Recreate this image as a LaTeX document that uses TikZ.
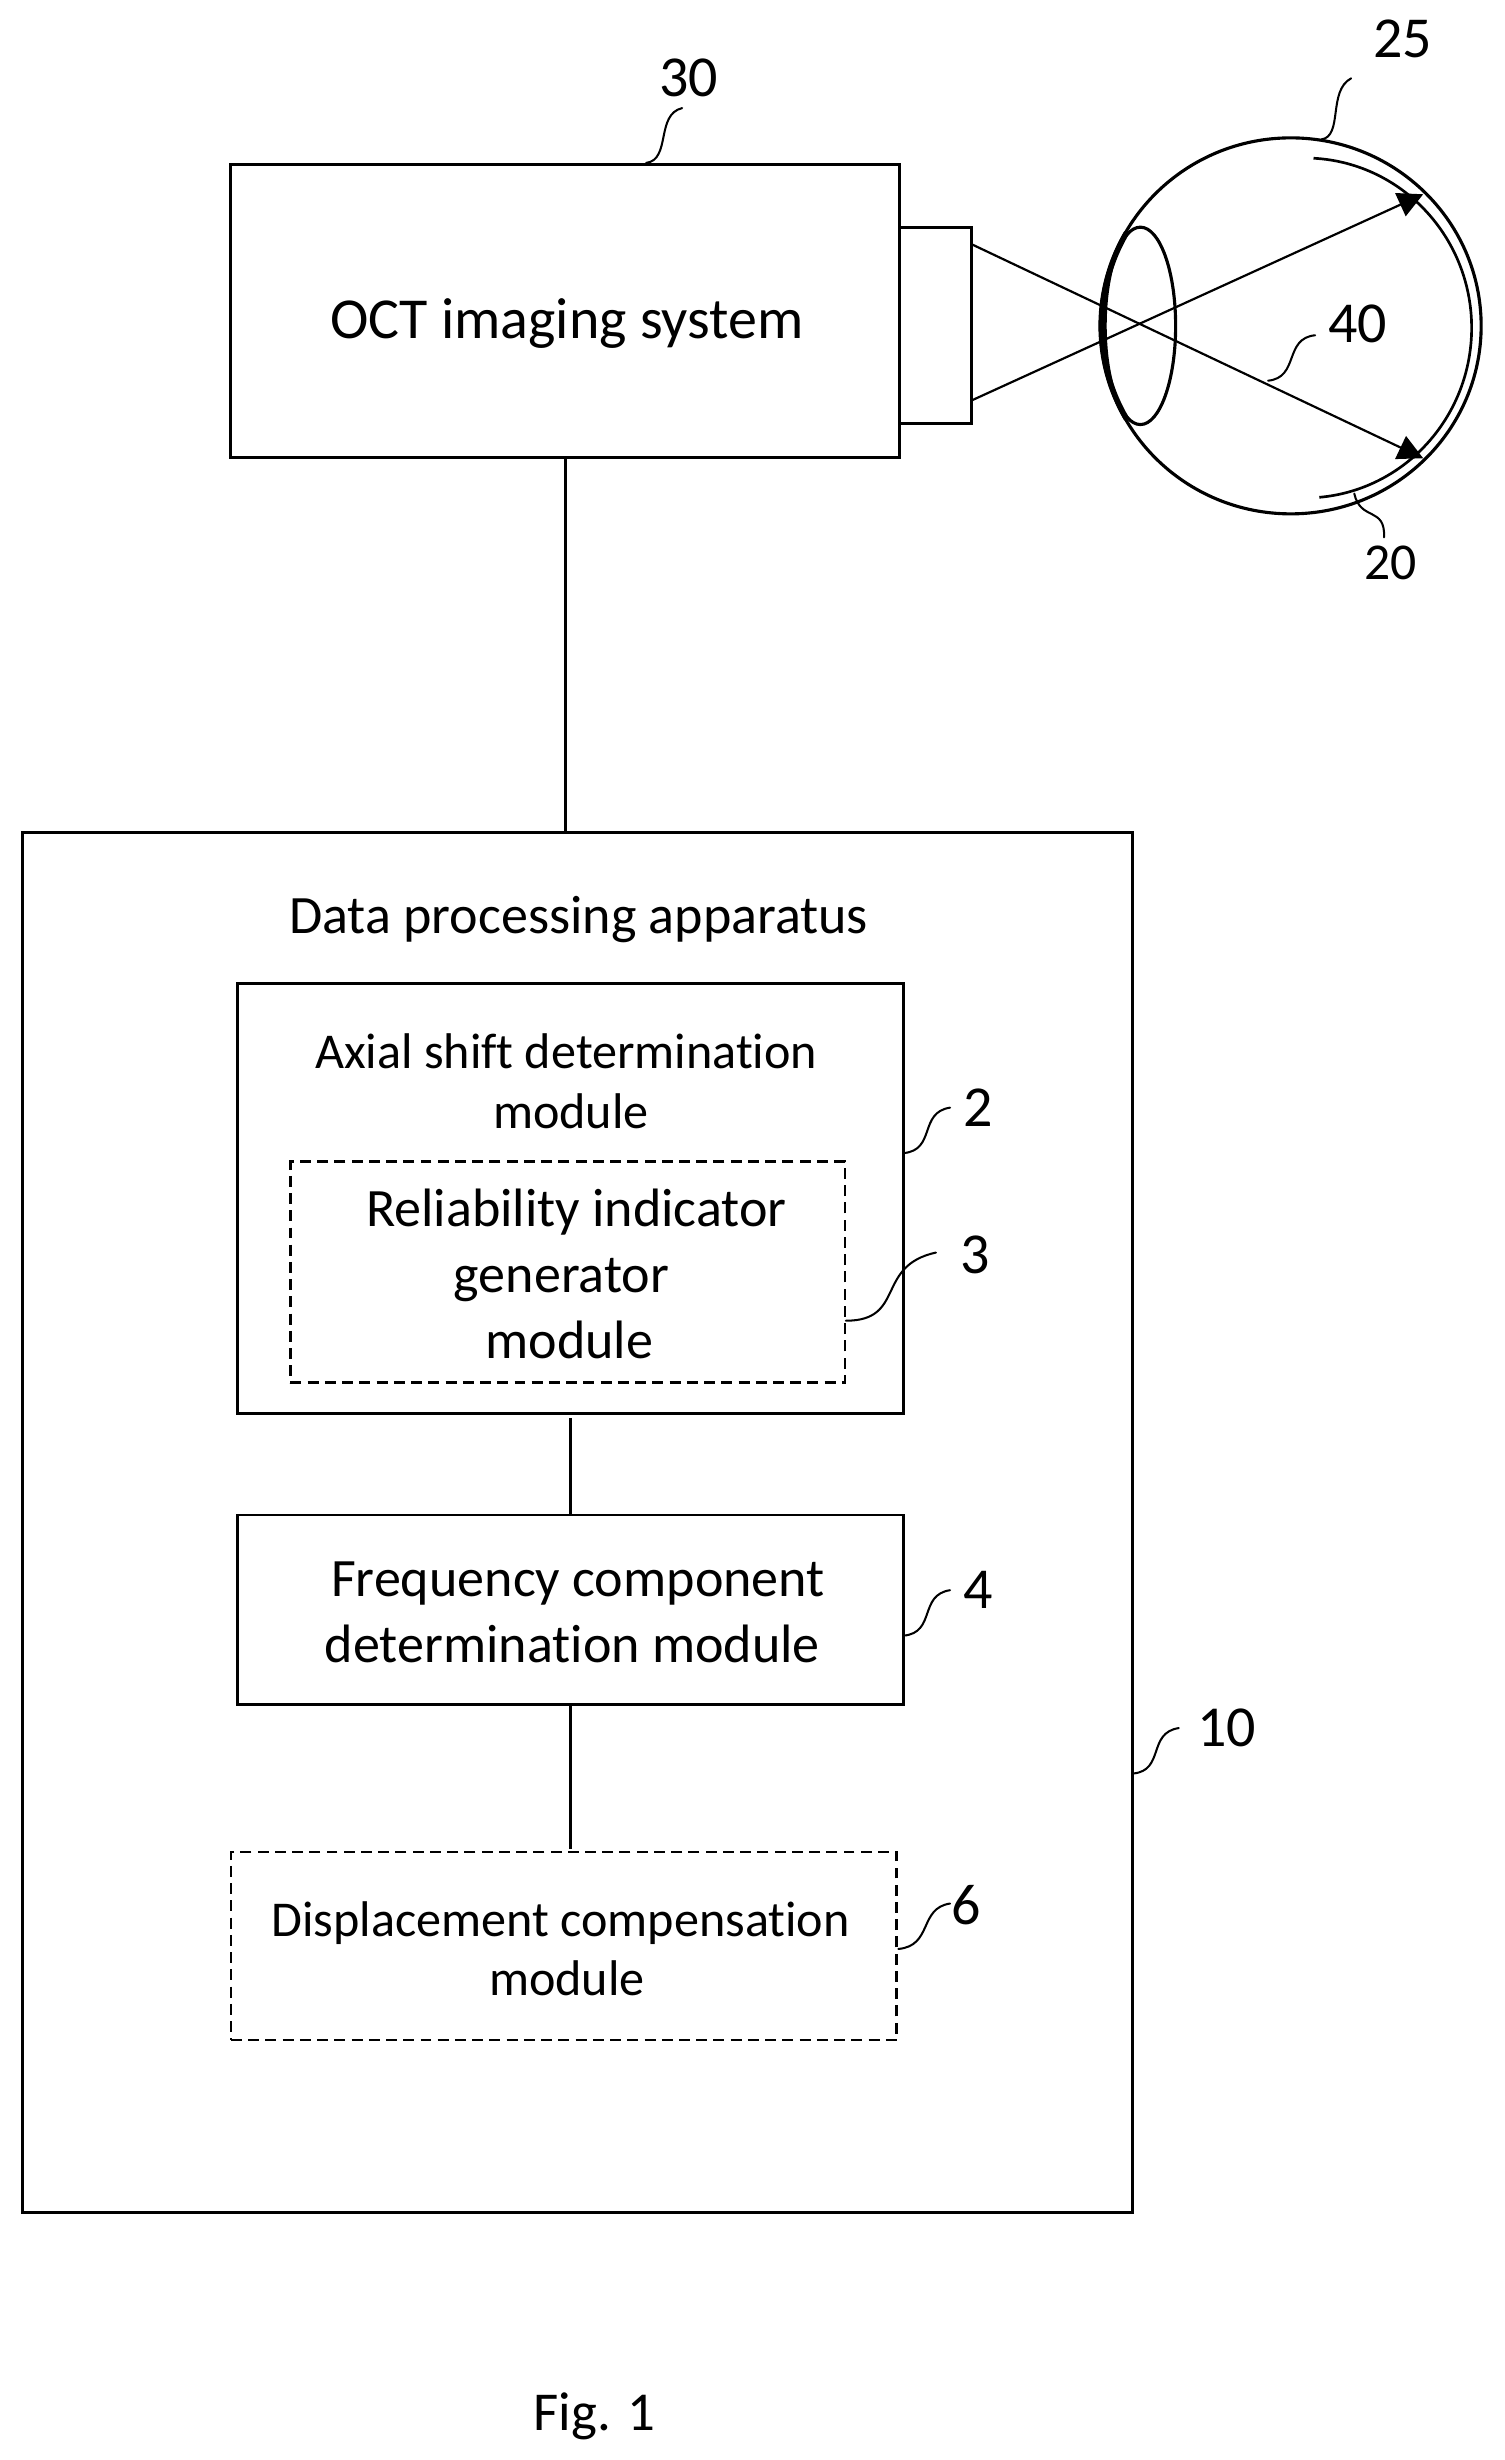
\documentclass[tikz,border=0pt]{standalone}
\usepackage{fontspec}
\setmainfont{Carlito}[Ligatures=NoCommon]
\usetikzlibrary{arrows.meta,calc,shapes.geometric}
\tikzset{
  solidbox/.style={draw=black,line width=1.9pt,inner sep=0pt,outer sep=0pt},
  dashbox/.style={draw=black,line width=1.7pt,dash pattern=on 7pt off 4pt,inner sep=0pt,outer sep=0pt},
  lbl/.style={inner sep=0pt,outer sep=0pt,align=center,text=black},
  link/.style={draw=black,line width=1.9pt},
  leader/.style={draw=black,line width=1.3pt,line cap=round},
  beam/.style={draw=black,line width=1.4pt,-{Triangle[length=16pt,width=16pt]}},
  eyeline/.style={draw=black,line width=2pt,inner sep=0pt,outer sep=0pt,ellipse},
  fa/.style={font=\fontsize{32}{38}\selectfont},
  fb/.style={font=\fontsize{34.5}{42}\selectfont},
  fn/.style={font=\fontsize{37}{37}\selectfont}
}
\begin{document}
\begin{tikzpicture}[x=1pt,y=-1pt]
\useasboundingbox (-0.4,-1) rectangle (959.6,1569.2);
% boxes
\node[solidbox,minimum width=427pt,minimum height=187pt] (oct) at (360.5,197.5) {};
\node[solidbox,minimum width=46pt,minimum height=125pt] (probe) at (597,207) {};
\node[solidbox,minimum width=708.5pt,minimum height=881pt] (main) at (368.2,971) {};
\node[solidbox,minimum width=425pt,minimum height=274pt] (axial) at (363.5,764) {};
\node[dashbox,minimum width=354pt,minimum height=141pt] (rel) at (362,811) {};
\node[solidbox,minimum width=425pt,minimum height=121pt] (freq) at (363.5,1026.5) {};
\node[dashbox,minimum width=425pt,minimum height=120pt] (disp) at (359.5,1241) {};
% texts
\node[lbl,font=\fontsize{37}{37}\selectfont] (toct) at (361.5,205.5) {OCT imaging system};
\node[lbl,font=\fontsize{34.5}{34.5}\selectfont] (tdata) at (369,586) {Data processing apparatus};
\node[lbl,fa] (taxial) at (361,689) {Axial shift determination\\\hspace*{6pt}module};
\node[lbl,fb] (trel) at (363,812) {\hspace*{9pt}Reliability indicator\\\hspace*{-10pt}generator\\module};
\node[lbl,fb] (tfreq) at (365,1028) {\hspace*{7pt}Frequency component\\determination module};
\node[lbl,fa] (tdisp) at (357.5,1243) {Displacement compensation\\\hspace*{8pt}module};
\node[lbl,font=\fontsize{35}{35}\selectfont] (tfig) at (379,1541) {Fig. 1};
\node[lbl,fn] (n30) at (439,49) {30};
\node[lbl,fn] (n25) at (895,24) {25};
\node[lbl,fn] (n40) at (866,206) {40};
\node[lbl,font=\fontsize{33}{33}\selectfont] (n20) at (887,358) {20};
\node[lbl,fn] (n2) at (624,706) {2};
\node[lbl,fn] (n3) at (622,800) {3};
\node[lbl,fn] (n4) at (624,1014) {4};
\node[lbl,fn] (n6) at (616.5,1215) {6};
\node[lbl,fn] (n10) at (782.5,1102) {10};
% connectors
\draw[link] (oct.south) -- (oct.south |- main.north);
\draw[link,shorten <=3pt] (axial.south) -- (freq.north);
\draw[link,shorten >=2pt] (freq.south) -- (freq.south |- disp.north);
% eye
\node[eyeline,draw,minimum width=243pt,minimum height=240pt] (eye) at (823.5,207) {};
\draw[line width=3.6pt] (eye.center) ++(150:121pt and 119pt) arc[start angle=150,end angle=210,x radius=121pt,y radius=119pt];
\node[eyeline,draw,minimum width=45pt,minimum height=126pt] (lens) at (727.5,207) {};
\draw[line width=1.7pt] (838,100) arc[start angle=87,end angle=-85,x radius=106.5pt,y radius=108.5pt];
% beams
\coordinate (beamA) at (620,155);
\coordinate (beamB) at (620,254.5);
\coordinate (tipA) at (908,291.5);
\coordinate (tipB) at (908,123);
\draw[beam] (beamA) -- (tipA);
\draw[beam] (beamB) -- (tipB);
% leader lines
\coordinate (l30) at (412,103);
\coordinate (e30) at (435,68);
\draw[leader] (l30) .. controls (428,101) and (418,72) .. (e30);
\coordinate (l25) at (843,88);
\coordinate (e25) at (862,49);
\draw[leader] (l25) .. controls (857,86) and (847,57) .. (e25);
\coordinate (l40) at (809,242);
\coordinate (e40) at (839,213);
\draw[leader] (l40) .. controls (829,240) and (819,215) .. (e40);
\coordinate (l20) at (864,314);
\coordinate (e20) at (883,342);
\draw[leader] (l20) .. controls (868,332) and (884,322) .. (e20);
\coordinate (l2) at (576.5,735);
\coordinate (e2) at (606,706);
\draw[leader] (l2) .. controls (597,733) and (586,709) .. (e2);
\coordinate (l3) at (539.5,842);
\coordinate (e3) at (597,798.5);
\draw[leader] (l3) .. controls (578,842) and (558,807) .. (e3);
\coordinate (l4) at (576.5,1043);
\coordinate (e4) at (606,1014);
\draw[leader] (l4) .. controls (597,1041) and (586,1017) .. (e4);
\coordinate (l6) at (573,1243);
\coordinate (e6) at (606,1214);
\draw[leader] (l6) .. controls (595,1241) and (586,1217) .. (e6);
\coordinate (l10) at (723,1131);
\coordinate (e10) at (752,1102);
\draw[leader] (l10) .. controls (743,1129) and (732,1105) .. (e10);
\end{tikzpicture}
\end{document}
